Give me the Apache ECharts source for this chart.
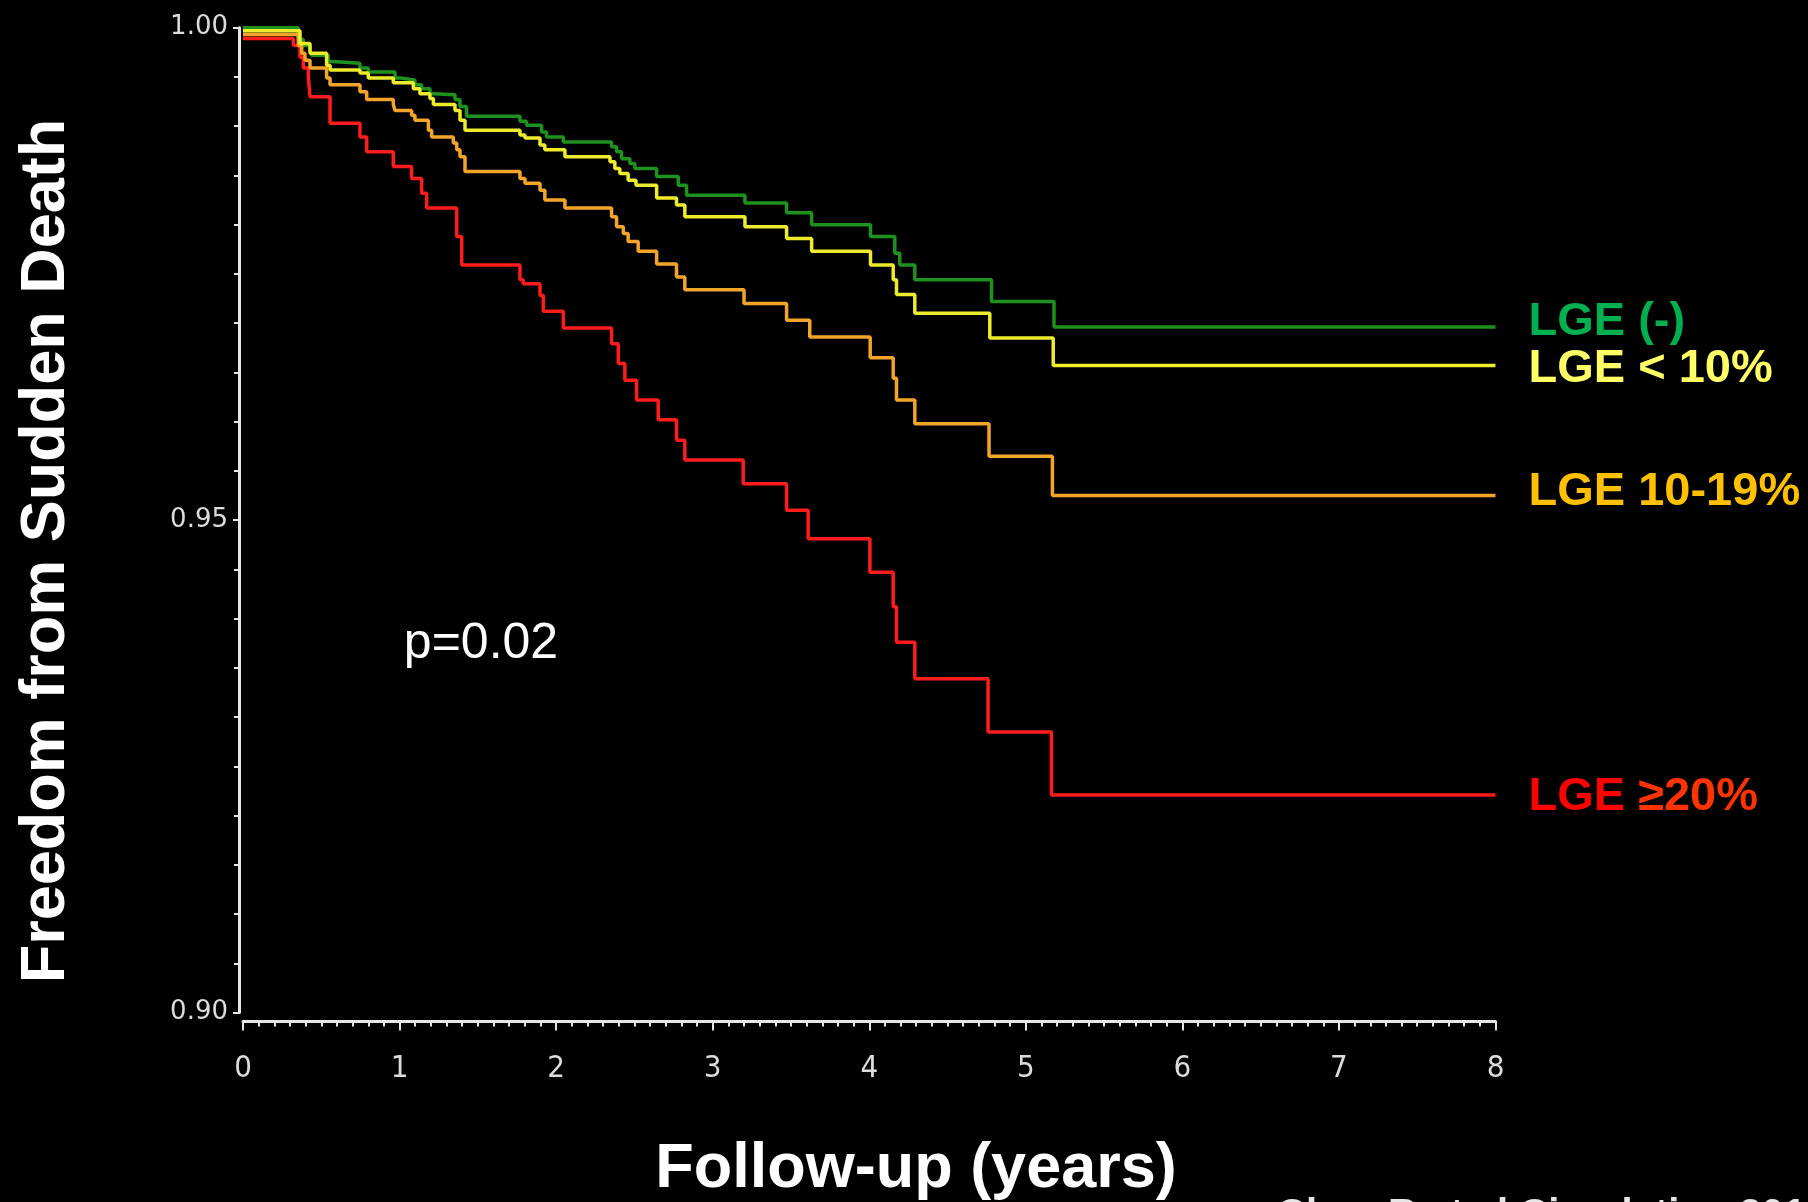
<!DOCTYPE html>
<html>
<head>
<meta charset="utf-8">
<script src="https://cdn.jsdelivr.net/npm/echarts@6/dist/echarts.min.js"></script>
<style>
html,body{margin:0;padding:0;background:#000;}
#chart{width:1808px;height:1202px;}
</style>
</head>
<body>
<div id="chart"></div>
<script>
// ---- Data ----
const seriesNames = ['LGE (-)', 'LGE < 10%', 'LGE 10-19%', 'LGE \u226520%'];

const lgeNegTime = [0, 0.353, 0.385, 0.428, 0.439, 0.545, 0.556, 0.747, 0.800, 0.971, 1.003, 1.098, 1.141, 1.194, 1.216, 1.354, 1.386, 1.428, 1.769, 1.811, 1.907, 1.939, 2.046, 2.354, 2.386, 2.418, 2.471, 2.503, 2.642, 2.780, 2.833, 3.206, 3.472, 3.632, 4.008, 4.163, 4.195, 4.291, 4.781, 5.180, 8];
const lgeNegSurv = [1.0, 0.9988, 0.9982, 0.9976, 0.9972, 0.9966, 0.9964, 0.9959, 0.9955, 0.9949, 0.9947, 0.9942, 0.9938, 0.9933, 0.9932, 0.9927, 0.9920, 0.9910, 0.9905, 0.9901, 0.9894, 0.9889, 0.9884, 0.9879, 0.9874, 0.9867, 0.9862, 0.9857, 0.9849, 0.9840, 0.9830, 0.9822, 0.9812, 0.9800, 0.9788, 0.9771, 0.9759, 0.9744, 0.9722, 0.9696, 0.9696];

const lgeLt10Time = [0, 0.364, 0.428, 0.534, 0.556, 0.747, 0.800, 0.960, 1.088, 1.130, 1.194, 1.216, 1.354, 1.386, 1.418, 1.769, 1.801, 1.897, 1.928, 2.056, 2.344, 2.375, 2.407, 2.460, 2.510, 2.642, 2.769, 2.822, 3.206, 3.472, 3.632, 4.008, 4.153, 4.174, 4.291, 4.770, 5.175, 8];
const lgeLt10Surv = [0.9997, 0.9984, 0.9974, 0.9962, 0.9957, 0.9954, 0.9949, 0.9944, 0.9938, 0.9933, 0.9928, 0.9922, 0.9916, 0.9906, 0.9896, 0.9891, 0.9888, 0.9881, 0.9876, 0.9869, 0.9864, 0.9857, 0.9852, 0.9845, 0.9840, 0.9827, 0.9820, 0.9808, 0.9798, 0.9786, 0.9773, 0.9759, 0.9744, 0.9729, 0.9710, 0.9685, 0.9657, 0.9657];

const lge10to19Time = [0, 0.353, 0.375, 0.396, 0.428, 0.534, 0.556, 0.747, 0.790, 0.960, 0.971, 1.077, 1.098, 1.184, 1.205, 1.343, 1.365, 1.386, 1.418, 1.769, 1.801, 1.897, 1.928, 2.056, 2.354, 2.386, 2.429, 2.460, 2.524, 2.642, 2.769, 2.822, 3.200, 3.472, 3.620, 4.006, 4.153, 4.174, 4.291, 4.765, 5.170, 8];
const lge10to19Surv = [0.9993, 0.9982, 0.9974, 0.9967, 0.9959, 0.9949, 0.9942, 0.9935, 0.9927, 0.9922, 0.9916, 0.9911, 0.9906, 0.9896, 0.9889, 0.9883, 0.9876, 0.9869, 0.9854, 0.9847, 0.9842, 0.9835, 0.9825, 0.9817, 0.9808, 0.9798, 0.9791, 0.9783, 0.9773, 0.9760, 0.9747, 0.9734, 0.9720, 0.9703, 0.9686, 0.9665, 0.9644, 0.9622, 0.9598, 0.9565, 0.9525, 0.9525];

const lgeGe20Time = [0, 0.322, 0.364, 0.385, 0.417, 0.428, 0.556, 0.747, 0.790, 0.960, 1.077, 1.141, 1.173, 1.365, 1.397, 1.769, 1.790, 1.897, 1.918, 2.046, 2.354, 2.397, 2.439, 2.514, 2.652, 2.769, 2.822, 3.195, 3.472, 3.610, 4.004, 4.153, 4.174, 4.291, 4.759, 5.164, 8];
const lgeGe20Surv = [0.9989, 0.9982, 0.9970, 0.9959, 0.9950, 0.9930, 0.9903, 0.9889, 0.9874, 0.9859, 0.9847, 0.9832, 0.9817, 0.9788, 0.9759, 0.9744, 0.9740, 0.9728, 0.9712, 0.9695, 0.9679, 0.9659, 0.9642, 0.9622, 0.9602, 0.9581, 0.9561, 0.9537, 0.9510, 0.9481, 0.9447, 0.9412, 0.9376, 0.9339, 0.9285, 0.9221, 0.9221];

const xTickValues = [0, 1, 2, 3, 4, 5, 6, 7, 8];
const yTickValues = [0.90, 0.95, 1.00];

const axisTitleY = 'Freedom from Sudden Death';
const axisTitleX = 'Follow-up (years)';
const pValueText = 'p=0.02';
const citationText = 'Chan R et al Circulation 2014';

// ---- Build ----
function zip(t, v) { return t.map((x, i) => [x, v[i]]); }

const lineColors = ['#1f911f', '#ecec2c', '#f2a52a', '#ff1c1c'];
const labelColors = ['#00b050', '#ffff66', '#ffc000', '#ff1000'];
const labelDy = [-5, 4, -3, 2];
const seriesData = [
  zip(lgeNegTime, lgeNegSurv),
  zip(lgeLt10Time, lgeLt10Surv),
  zip(lge10to19Time, lge10to19Surv),
  zip(lgeGe20Time, lgeGe20Surv)
];
const drawOrder = [0, 3, 2, 1];

const chart = echarts.init(document.getElementById('chart'), null, { renderer: 'canvas' });

const labelFont = '"Liberation Sans", Arial, sans-serif';
const series = drawOrder.map(i => ({
  name: seriesNames[i],
  type: 'line',
  step: 'end',
  symbol: 'none',
  data: seriesData[i],
  lineStyle: { color: lineColors[i], width: 3.5 },
  itemStyle: { color: lineColors[i] },
  z: 3,
  endLabel: {
    show: true,
    distance: 33,
    offset: [0, labelDy[i]],
    formatter: i === 3 ? '{a|LGE} {b|\u226520%}' : seriesNames[i],
    color: labelColors[i],
    fontFamily: labelFont,
    fontWeight: 'bold',
    fontSize: 47,
    rich: {
      a: { color: '#ff0000', fontFamily: labelFont, fontWeight: 'bold', fontSize: 47 },
      b: { color: '#ff3300', fontFamily: labelFont, fontWeight: 'bold', fontSize: 47 }
    }
  }
}));

const option = {
  backgroundColor: '#000000',
  animation: false,
  grid: { left: 243, right: 312.5, top: 27.7, bottom: 189.4, containLabel: false },
  xAxis: {
    type: 'value',
    min: xTickValues[0],
    max: xTickValues[xTickValues.length - 1],
    interval: 1,
    offset: 9,
    axisLine: { show: true, onZero: false, lineStyle: { color: '#e6e6e6', width: 3 } },
    axisTick: { show: true, inside: false, length: 9, lineStyle: { color: '#e6e6e6', width: 2 } },
    minorTick: { show: true, splitNumber: 10, length: 5, lineStyle: { color: '#e6e6e6', width: 2 } },
    splitLine: { show: false },
    axisLabel: {
      color: '#dcdcdc',
      fontSize: 31,
      fontFamily: '"DejaVu Sans Condensed", "Liberation Sans Narrow", "DejaVu Sans", sans-serif',
      margin: 32,
      formatter: v => String(v)
    }
  },
  yAxis: {
    type: 'value',
    min: yTickValues[0],
    max: yTickValues[yTickValues.length - 1],
    interval: 0.05,
    offset: 4,
    axisLine: { show: true, onZero: false, lineStyle: { color: '#e6e6e6', width: 3 } },
    axisTick: { show: true, inside: false, length: 6, lineStyle: { color: '#e6e6e6', width: 2 } },
    minorTick: { show: true, splitNumber: 10, length: 5, lineStyle: { color: '#e6e6e6', width: 2 } },
    splitLine: { show: false },
    axisLabel: {
      color: '#dcdcdc',
      fontSize: 26,
      fontFamily: '"DejaVu Sans", sans-serif',
      margin: 11,
      formatter: v => v.toFixed(2)
    }
  },
  graphic: [
    {
      type: 'text', x: 47, y: 551, rotation: Math.PI / 2,
      style: { text: axisTitleY, fill: '#ffffff', font: 'bold 63px "Liberation Sans", Arial, sans-serif', align: 'center', verticalAlign: 'middle' }
    },
    {
      type: 'text', x: 916, y: 1170,
      style: { text: axisTitleX, fill: '#ffffff', font: 'bold 63px "Liberation Sans", Arial, sans-serif', align: 'center', verticalAlign: 'middle' }
    },
    {
      type: 'text', x: 481, y: 644,
      style: { text: pValueText, fill: '#ffffff', font: '50px "Liberation Sans", Arial, sans-serif', align: 'center', verticalAlign: 'middle' }
    },
    {
      type: 'text', x: 1277, y: 1196,
      style: { text: citationText, fill: '#e6e6e6', font: 'bold 40px "Liberation Sans", Arial, sans-serif', align: 'left', verticalAlign: 'top' }
    }
  ],
  series: series
};

chart.setOption(option);
</script>
</body>
</html>
